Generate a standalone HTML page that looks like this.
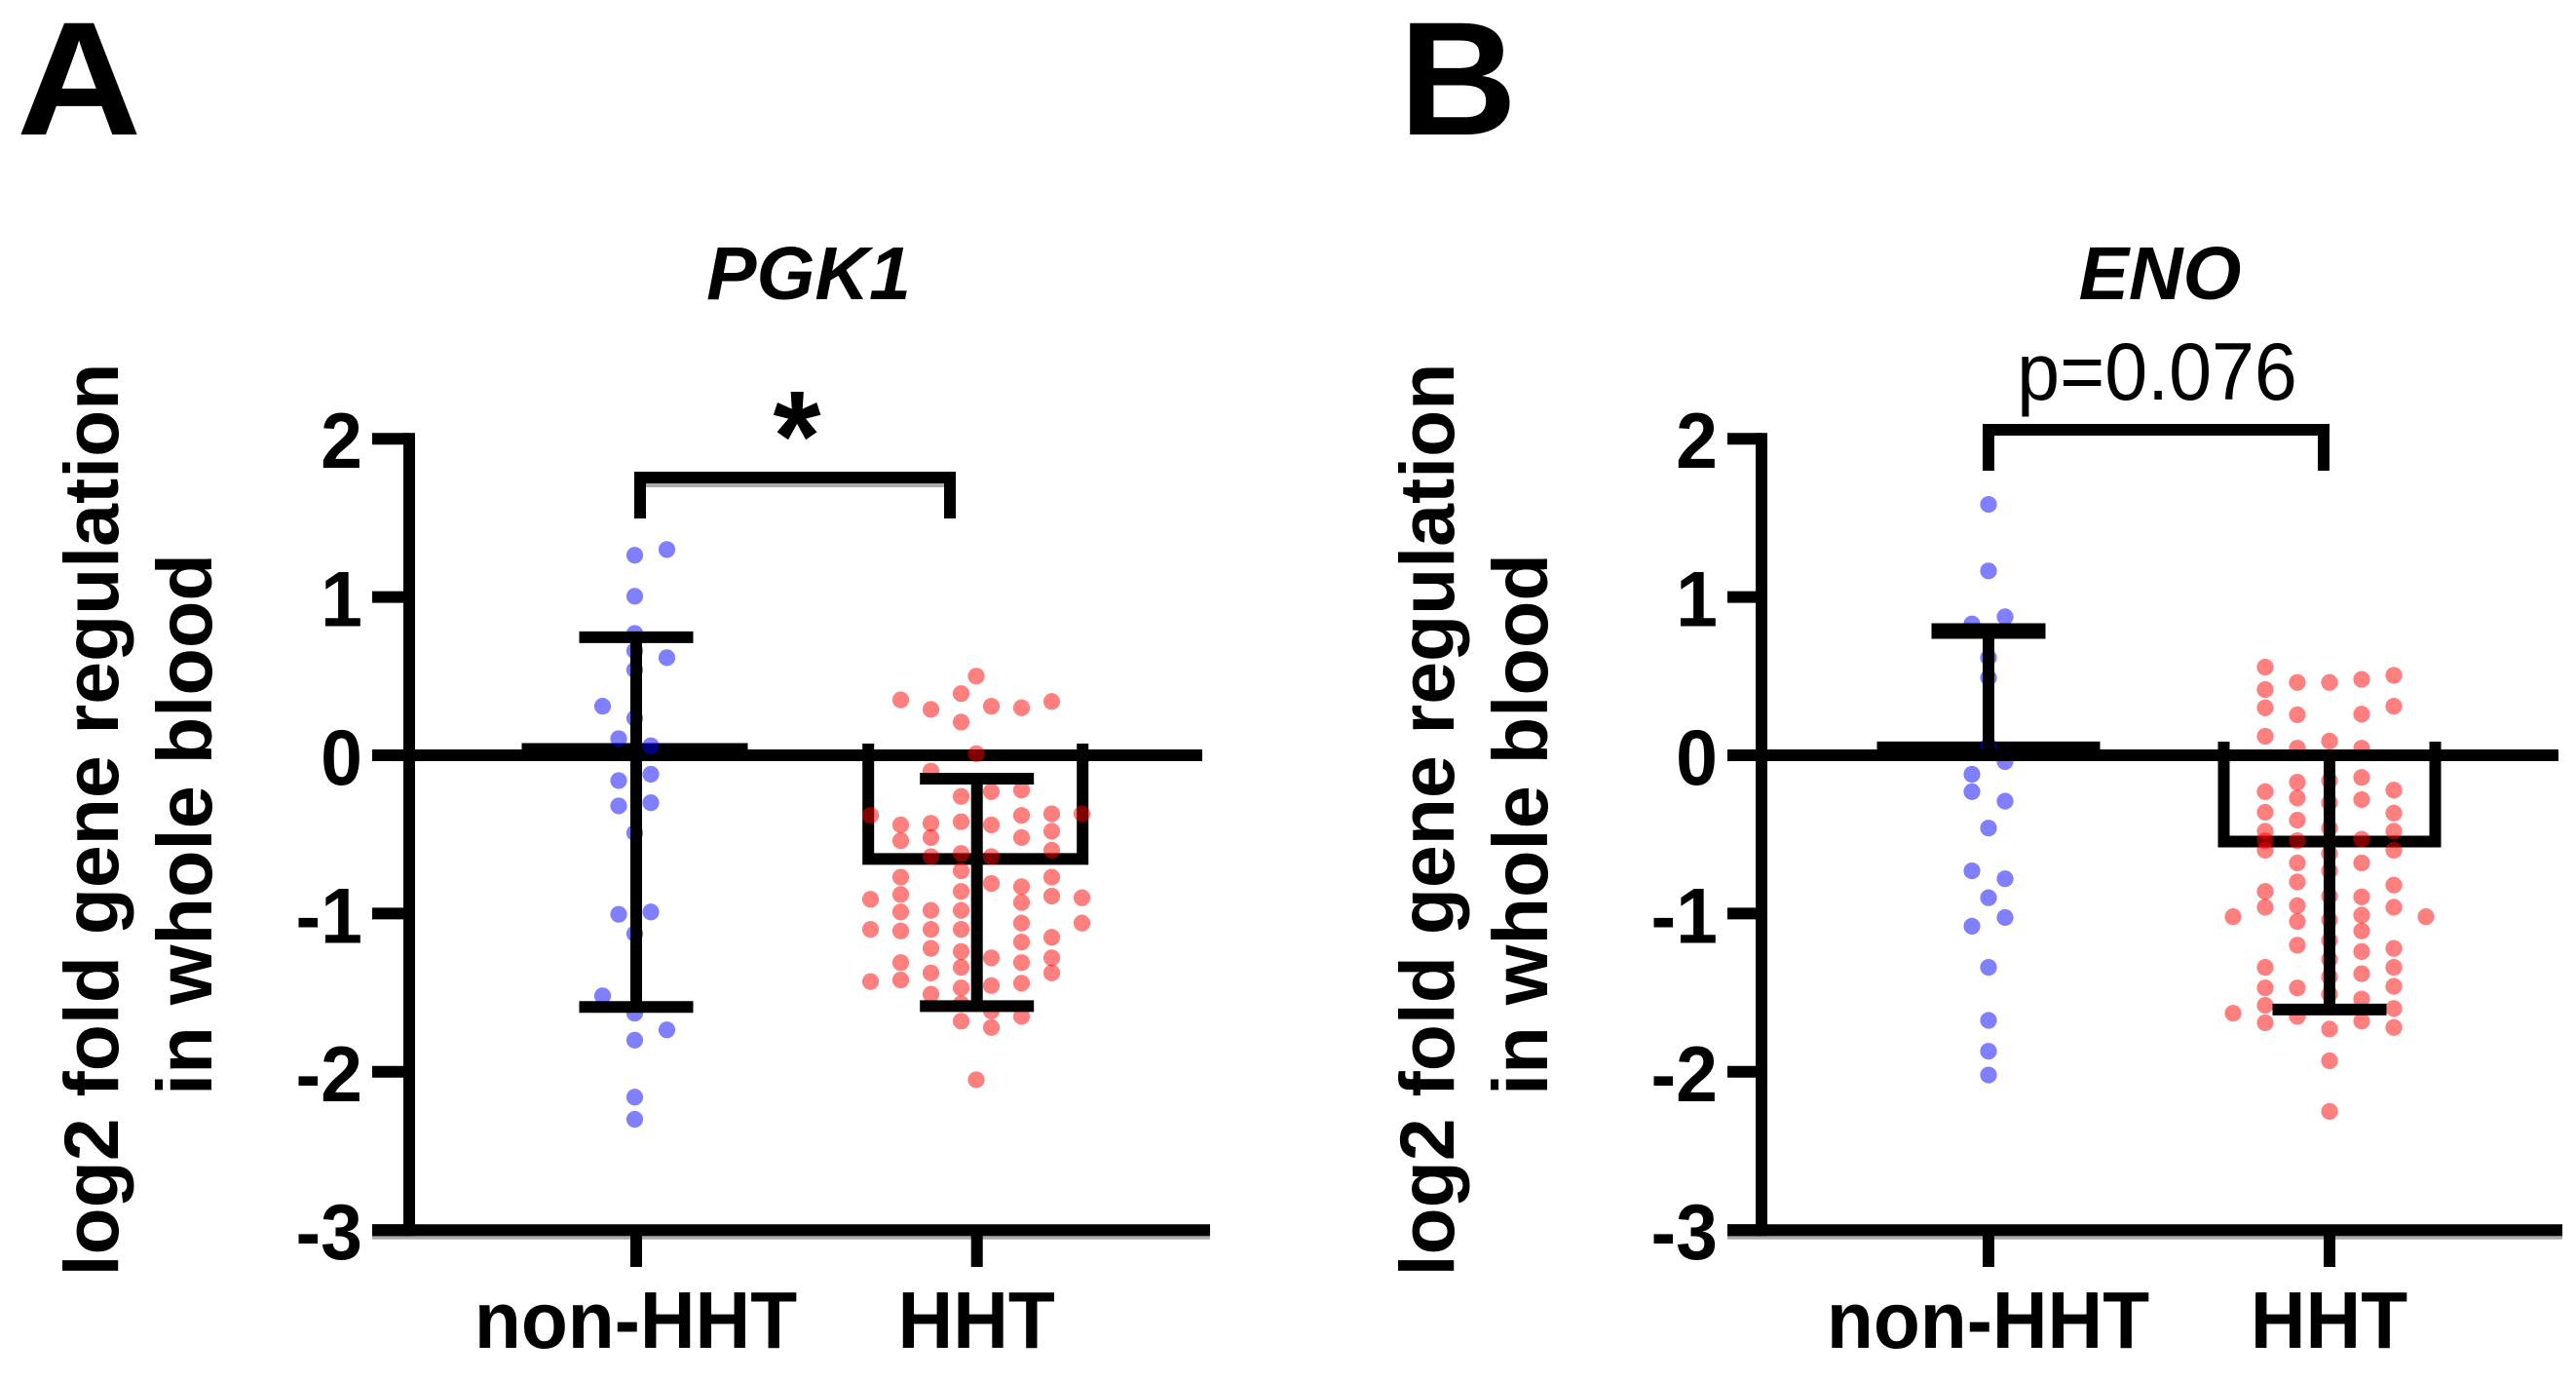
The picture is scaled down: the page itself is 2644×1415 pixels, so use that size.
<!DOCTYPE html>
<html lang="en">
<head>
<meta charset="utf-8">
<title>PGK1 and ENO gene regulation</title>
<style>
  html, body { margin: 0; padding: 0; background: #fff; }
  svg { display: block; }
  text { font-family: "Liberation Sans", Arial, sans-serif; fill: #000; }
  .b { font-weight: bold; }
</style>
</head>
<body>
<svg id="figure" xmlns="http://www.w3.org/2000/svg" width="2644" height="1415" viewBox="0 0 2644 1415">
  <rect x="0" y="0" width="2644" height="1415" fill="#fff"/>
  <text class="b" font-size="166" transform="translate(17,138) scale(1.07,1)">A</text>
  <text class="b" font-size="166" transform="translate(1436,138) scale(1.01,1)">B</text>

  <g id="chart-a">
    <text class="b" font-style="italic" font-size="77" text-anchor="middle" x="830" y="307">PGK1</text>
    <text class="b" font-size="78.8" text-anchor="middle" transform="translate(121,841) rotate(-90)">log2 fold gene regulation</text>
    <text class="b" font-size="79.4" text-anchor="middle" transform="translate(217,846) rotate(-90)">in whole blood</text>
  </g>

  <g id="chart-b">
    <text class="b" font-style="italic" font-size="77" text-anchor="middle" x="2217" y="307">ENO</text>
    <text class="b" font-size="78.8" text-anchor="middle" transform="translate(1492,841) rotate(-90)">log2 fold gene regulation</text>
    <text class="b" font-size="79.4" text-anchor="middle" transform="translate(1588,846) rotate(-90)">in whole blood</text>
  </g>
</svg>

<script>
// ---------- shared axis data ----------
const yTickValues = [2, 1, 0, -1, -2, -3];
const yTickLabels = ['2', '1', '0', '-1', '-2', '-3'];
const categories = ['non-HHT', 'HHT'];

// ---------- PGK1 summary ----------
const pgk1Means = [0.04, -0.655];
const pgk1ErrorUpper = [0.746, -0.148];
const pgk1ErrorLower = [-1.59, -1.585];
const pgk1Annotation = '*';

// ---------- ENO summary ----------
const enoMeans = [0.05, -0.545];
const enoErrorUpper = [0.785, 0];
const enoErrorLower = [0, -1.606];
const enoAnnotation = 'p=0.076';

// ---------- PGK1 individual samples, grouped by swarm column ----------
const pgk1ControlSlots = [-2, -1, 0, 1, 2];
const pgk1ControlValues = [
  [0.31, -1.52],
  [0.105, -0.16, -0.32, -1.005],
  [1.264, 1.005, 0.77, 0.66, 0.54, 0.234, -0.49, -1.127, -1.63, -1.80, -2.16, -2.30],
  [0.06, -0.12, -0.30, -0.99],
  [1.30, 0.617, -1.735]
];
const pgk1HhtSlots = [-7, -5, -3, -1, 0, 1, 3, 5, 7];
const pgk1HhtValues = [
  [-0.38, -0.91, -1.10, -1.43],
  [0.35, -0.44, -0.54, -0.77, -0.88, -0.99, -1.11, -1.31, -1.42],
  [0.29, -0.10, -0.43, -0.52, -0.64, -0.98, -1.10, -1.22, -1.375, -1.51],
  [0.39, 0.21, -0.26, -0.42, -0.62, -0.73, -0.86, -0.98, -1.10, -1.24, -1.34, -1.47, -1.57, -1.68],
  [0.50, 0.01, -2.05],
  [0.31, -0.23, -0.44, -0.64, -0.81, -1.28, -1.455, -1.615, -1.72],
  [0.30, -0.22, -0.38, -0.52, -0.83, -0.93, -1.06, -1.18, -1.31, -1.44, -1.65],
  [0.34, -0.37, -0.48, -0.60, -0.77, -0.89, -1.15, -1.28, -1.375],
  [-0.37, -0.90, -1.06]
];

// ---------- ENO individual samples, grouped by swarm column ----------
const enoControlSlots = [-1, 0, 1];
const enoControlValues = [
  [0.83, -0.12, -0.23, -0.73, -1.08],
  [1.585, 1.165, 0.617, 0.49, 0.06, -0.46, -0.90, -1.34, -1.675, -1.87, -2.02],
  [0.875, -0.04, -0.29, -0.78, -1.025]
];
const enoHhtSlots = [-3, -2, -1, 0, 1, 2, 3];
const enoHhtValues = [
  [-1.02, -1.63],
  [0.557, 0.415, 0.30, 0.12, -0.23, -0.36, -0.48, -0.54, -0.60, -0.86, -0.96, -1.34, -1.47, -1.58, -1.69],
  [0.46, 0.256, 0.045, -0.17, -0.27, -0.41, -0.54, -0.68, -0.80, -0.95, -1.05, -1.20, -1.47, -1.65],
  [0.46, 0.09, -0.16, -0.30, -0.46, -0.62, -0.73, -0.89, -1.04, -1.17, -1.29, -1.40, -1.51, -1.73, -1.93, -2.25],
  [0.48, 0.26, 0.045, -0.14, -0.28, -0.53, -0.68, -0.895, -1.01, -1.11, -1.24, -1.38, -1.54, -1.68],
  [0.505, 0.31, -0.22, -0.365, -0.48, -0.60, -0.82, -0.96, -1.22, -1.34, -1.46, -1.60, -1.72],
  [-1.02]
];

// ---------- drawing ----------
const SVG_NS = 'http://www.w3.org/2000/svg';
const INK = '#000';
const SHADOW = '#aaa';
const LINE = 12;

// Shared vertical axis function.
function yScale(v) { return 775 - 162.4 * v; }

function make(parent, tag, attrs, content) {
  const el = document.createElementNS(SVG_NS, tag);
  for (const k in attrs) el.setAttribute(k, attrs[k]);
  if (content !== undefined) el.textContent = content;
  parent.appendChild(el);
  return el;
}

function hLine(parent, x1, x2, y, width, color) {
  return make(parent, 'line', { x1: x1, x2: x2, y1: y, y2: y, stroke: color || INK, 'stroke-width': width || LINE });
}
function vLine(parent, x, y1, y2, width) {
  return make(parent, 'line', { x1: x, x2: x, y1: y1, y2: y2, stroke: INK, 'stroke-width': width || LINE });
}

function drawChart(cfg) {
  const root = document.getElementById(cfg.rootId);
  const xScale = function (i) { return cfg.xFirst + i * cfg.xStep; };

  // x-axis soft edge and axes
  const axes = make(root, 'g', {});
  
  

  const edge = hLine(axes, cfg.tickLeft, cfg.xAxisEnd, yScale(-3) + 7.5, 4, SHADOW);
  
  

  const xAxis = hLine(axes, cfg.tickLeft, cfg.xAxisEnd, yScale(-3));
  
  

  const yAxis = vLine(axes, cfg.yAxisX, yScale(2) - 6, yScale(-3) + 6);
  
  

  const zeroLine = hLine(axes, cfg.yAxisX, cfg.zeroEnd, yScale(0));
  
  

  yTickValues.forEach(function (v, i) {
    const tick = hLine(axes, cfg.tickLeft, cfg.yAxisX, yScale(v));
    
    

    const label = make(axes, 'text', {
      class: 'b', 'font-size': 77, 'text-anchor': 'end',
      transform: 'translate(' + cfg.tickLabelX + ',' + (yScale(v) + 30) + ') scale(1,1.05)'
    }, yTickLabels[i]);
    
    
  });

  categories.forEach(function (name, i) {
    const tick = vLine(axes, xScale(i), yScale(-3), 1300);
    
    

    const label = make(axes, 'text', {
      class: 'b', 'font-size': 78.5, 'text-anchor': 'middle',
      transform: 'translate(' + (xScale(i) - 0.5) + ',1383) scale(1,1.05)'
    }, name);
    
    
  });

  // bars: open-topped outline when hanging, flat cap line when at the baseline
  cfg.means.forEach(function (m, i) {
    const cx = xScale(i) + cfg.barShift;
    const left = cx - cfg.barHalf;
    const right = cx + cfg.barHalf;
    const yv = yScale(m);
    const d = m < 0
      ? 'M' + left + ' ' + cfg.barTop + 'L' + left + ' ' + yv + 'L' + right + ' ' + yv + 'L' + right + ' ' + cfg.barTop
      : 'M' + (left - LINE / 2) + ' ' + yv + 'L' + (right + LINE / 2) + ' ' + yv;
    const bar = make(root, 'path', { d: d, fill: 'none', stroke: INK, 'stroke-width': LINE, 'stroke-linejoin': 'miter' });
    
    
  });

  // individual samples
  cfg.groups.forEach(function (group, g) {
    const dots = make(root, 'g', { fill: group.color, 'fill-opacity': 0.5 });
    
    
    group.values.forEach(function (column, c) {
      const x = xScale(g) + group.shift + group.slots[c] * group.unit;
      column.forEach(function (v) {
        const dot = make(dots, 'circle', { cx: x, cy: yScale(v), r: 8.6 });
        
        
      });
    });
  });

  // error bars
  cfg.means.forEach(function (m, i) {
    const x = xScale(i);
    const err = make(root, 'g', {});
    
    
    vLine(err, x, yScale(cfg.upper[i]), yScale(cfg.lower[i]));
    hLine(err, x - 58.5, x + 58.5, yScale(cfg.upper[i]), cfg.capUpperWidth[i]);
    hLine(err, x - 58.5, x + 58.5, yScale(cfg.lower[i]));
  });

  // significance bracket
  const bracket = make(root, 'g', {});
  
  
  if (cfg.bracketEdge) {
    hLine(bracket, cfg.bracketLeft + 6, cfg.bracketRight - 6, cfg.bracketY + 8, 4, SHADOW);
  }
  make(bracket, 'path', {
    d: 'M' + cfg.bracketLeft + ' ' + cfg.bracketFoot + 'L' + cfg.bracketLeft + ' ' + cfg.bracketY +
       'L' + cfg.bracketRight + ' ' + cfg.bracketY + 'L' + cfg.bracketRight + ' ' + cfg.bracketFoot,
    fill: 'none', stroke: INK, 'stroke-width': LINE, 'stroke-linejoin': 'miter'
  });

  const note = make(root, 'text', {
    'font-size': cfg.noteSize, 'text-anchor': 'middle', class: cfg.noteBold ? 'b' : '',
    transform: 'translate(' + cfg.noteX + ',' + cfg.noteY + ') scale(1,' + cfg.noteStretch + ')'
  }, cfg.note);
  
  
}

const BLUE = '#00f';
const RED = '#f00';

drawChart({
  rootId: 'chart-a', key: 'pgk1',
  xFirst: 653, xStep: 349.7, yAxisX: 420, tickLeft: 382, tickLabelX: 372,
  xAxisEnd: 1242, zeroEnd: 1234,
  means: pgk1Means, upper: pgk1ErrorUpper, lower: pgk1ErrorLower, capUpperWidth: [12, 12],
  barHalf: 110, barShift: -1.5, barTop: 763,
  groups: [
    { color: BLUE, slots: pgk1ControlSlots, values: pgk1ControlValues, unit: 16.5, shift: -1.5 },
    { color: RED, slots: pgk1HhtSlots, values: pgk1HhtValues, unit: 15.5, shift: -0.7 }
  ],
  bracketLeft: 657, bracketRight: 975, bracketY: 490, bracketFoot: 532, bracketEdge: true,
  note: pgk1Annotation, noteX: 818, noteY: 493, noteSize: 126, noteBold: true, noteStretch: 1.05
});

drawChart({
  rootId: 'chart-b', key: 'eno',
  xFirst: 2041, xStep: 350, yAxisX: 1808, tickLeft: 1773, tickLabelX: 1763,
  xAxisEnd: 2630, zeroEnd: 2626,
  means: enoMeans, upper: enoErrorUpper, lower: enoErrorLower, capUpperWidth: [16, 12],
  barHalf: 108.5, barShift: 0, barTop: 761,
  groups: [
    { color: BLUE, slots: enoControlSlots, values: enoControlValues, unit: 17, shift: 0 },
    { color: RED, slots: enoHhtSlots, values: enoHhtValues, unit: 33, shift: 0 }
  ],
  bracketLeft: 2041, bracketRight: 2385, bracketY: 441, bracketFoot: 483, bracketEdge: false,
  note: enoAnnotation, noteX: 2214, noteY: 410, noteSize: 79, noteBold: false, noteStretch: 1.06
});
</script>
</body>
</html>
